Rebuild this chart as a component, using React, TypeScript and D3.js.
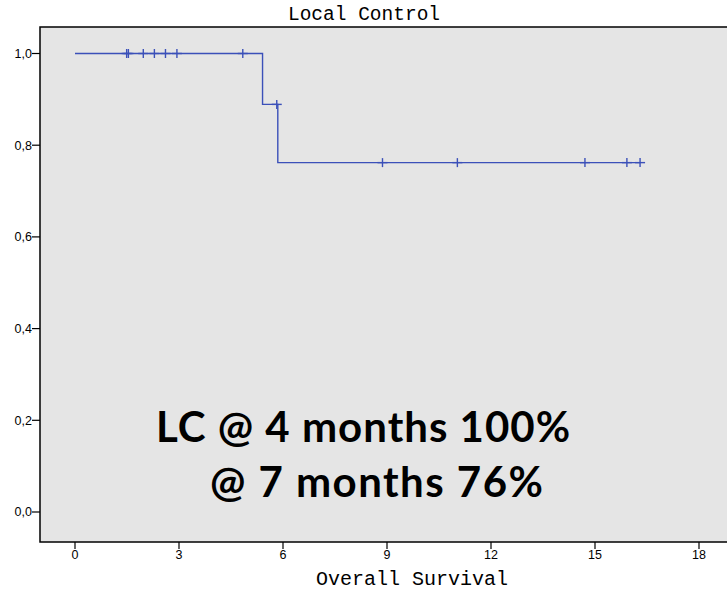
import * as d3 from "d3";

// Kaplan-Meier step: time (months) where the curve drops, and the level after it
const stepTimes = [0, 5.41, 5.85];
const stepSurvival = [1.0, 0.889, 0.762];

// censored observations (months)
const censorTimes = [1.49, 1.54, 1.97, 2.29, 2.61, 2.94, 4.84, 5.82, 8.87, 11.03, 14.71, 15.92, 16.3];

const xTicks = [0, 3, 6, 9, 12, 15, 18];
const yTicks = [0, 0.2, 0.4, 0.6, 0.8, 1.0];

const annotationLines = ["LC @ 4 months 100%", "@ 7 months 76%"];

const width = 727;
const height = 591;

const frame = { left: 40, top: 27, right: 742, bottom: 542 };

const commaFmt = d3
  .formatLocale({ decimal: ",", thousands: ".", grouping: [3], currency: ["", ""] })
  .format(".1f");

const survAt = (t: number) => {
  let s = stepSurvival[0];
  stepTimes.forEach((st, i) => {
    if (t >= st) s = stepSurvival[i];
  });
  return s;
};

export default function App() {
  const x = d3.scaleLinear().domain([0, 18]).range([75, 699]);
  const y = d3.scaleLinear().domain([0, 1]).range([512, 53.5]);

  const endTime = d3.max(censorTimes) as number;
  const pts: [number, number][] = stepTimes.map((t, i) => [t, stepSurvival[i]]);
  pts.push([endTime, stepSurvival[stepSurvival.length - 1]]);

  const line = d3
    .line<[number, number]>()
    .x((d) => x(d[0]))
    .y((d) => y(d[1]))
    .curve(d3.curveStepAfter);

  const blue = "#3b50b9";

  return (
    <svg
      width={width}
      height={height}
      style={{ position: "absolute", left: 0, top: 0, background: "#fff" }}
    >
      <rect
        x={frame.left}
        y={frame.top}
        width={frame.right - frame.left}
        height={frame.bottom - frame.top}
        fill="#e5e5e5"
        stroke="#000"
        strokeWidth={1.5}
      />

      <text
        x={364}
        y={20}
        textAnchor="middle"
        fontFamily="'Liberation Mono', monospace"
        fontSize={19.5}
        fill="#000"
      >
        Local Control
      </text>

      {yTicks.map((t) => (
        <g key={t}>
          <line x1={frame.left - 8} x2={frame.left} y1={y(t)} y2={y(t)} stroke="#000" strokeWidth={1.2} />
          <text
            x={frame.left - 8}
            y={y(t)}
            dy="0.35em"
            textAnchor="end"
            fontFamily="'Liberation Sans', Arial, sans-serif"
            fontSize={12.5}
            fill="#000"
          >
            {commaFmt(t)}
          </text>
        </g>
      ))}

      {xTicks.map((t) => (
        <g key={t}>
          <line x1={x(t)} x2={x(t)} y1={frame.bottom} y2={frame.bottom + 7} stroke="#000" strokeWidth={1.2} />
          <text
            x={x(t)}
            y={559}
            textAnchor="middle"
            fontFamily="'Liberation Sans', Arial, sans-serif"
            fontSize={12.5}
            fill="#000"
          >
            {t}
          </text>
        </g>
      ))}

      <text
        x={412}
        y={585}
        textAnchor="middle"
        fontFamily="'Liberation Mono', monospace"
        fontSize={20}
        fill="#000"
      >
        Overall Survival
      </text>

      <path d={line(pts) || ""} fill="none" stroke={blue} strokeWidth={1.4} />

      {censorTimes.map((t, i) => {
        const cx = x(t);
        const cy = y(survAt(t));
        return (
          <g key={i} stroke={blue} strokeWidth={1.4}>
            <line x1={cx} x2={cx} y1={cy - 4.5} y2={cy + 4.5} />
            <line x1={cx - 5} x2={cx + 5} y1={cy} y2={cy} />
          </g>
        );
      })}

      <text
        x={156}
        y={442}
        fontFamily="Lato, 'Open Sans', sans-serif"
        fontWeight="bold"
        fontSize={42}
        letterSpacing={1}
        fill="#000"
      >
        {annotationLines[0]}
      </text>
      <text
        x={210}
        y={497}
        fontFamily="Lato, 'Open Sans', sans-serif"
        fontWeight="bold"
        fontSize={42}
        letterSpacing={1.45}
        fill="#000"
      >
        {annotationLines[1]}
      </text>
    </svg>
  );
}
